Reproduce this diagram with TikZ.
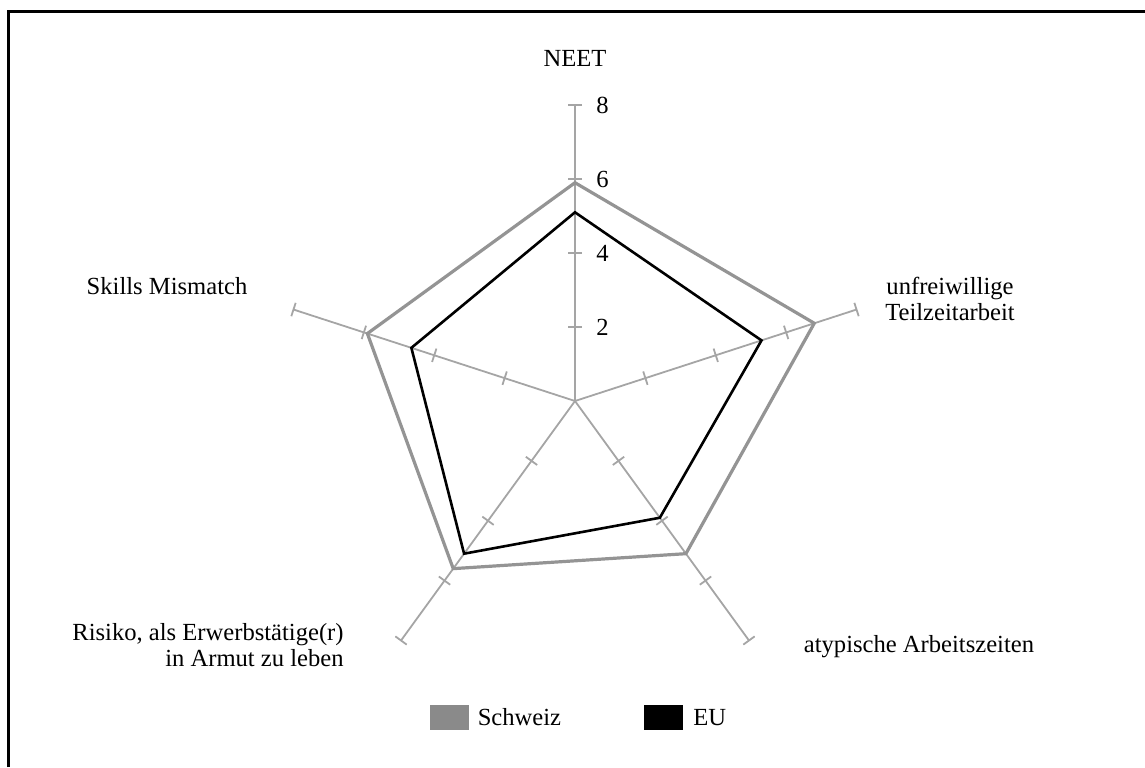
\documentclass[tikz,border=0pt]{standalone}
\usepackage{fontspec}
\setmainfont{Liberation Serif}
\usetikzlibrary{positioning}
\definecolor{axisgray}{RGB}{165,165,165}
\definecolor{chgray}{RGB}{148,148,148}
\definecolor{boxgray}{RGB}{138,138,138}

\begin{document}
\begin{tikzpicture}[x=0.5pt,y=0.5pt,
  lbl/.style={font=\fontsize{12.3}{13}\selectfont,inner sep=0pt},
  axis/.style={draw=axisgray,line width=0.9pt},
  swline/.style={draw=chgray,line width=1.6pt},
  euline/.style={draw=black,line width=1.3pt},
  legbox/.style={minimum width=19.5pt,minimum height=12.5pt,inner sep=0pt}]
  \useasboundingbox (0,0) rectangle (1145,-767);
  % frame
  \draw[line width=1.5pt] (8,-767) -- (8,-11) -- (1145,-11);
  \begin{scope}[shift={(575,-401)},x=18.5pt,y=18.5pt]
    % axes with ticks
    \foreach \a in {90,18,-54,-126,162} {
      \draw[axis] (0,0) -- (\a:8);
      \foreach \r in {2,4,6,8}
        \draw[axis,rotate=\a] (\r,-0.19) -- (\r,0.19);
    }
    % scale
    \foreach \r in {2,4,6,8}
      \node[lbl,anchor=west] (tick\r) at (0.57,\r) {\r};
    % Schweiz
    \draw[swline] (90:5.9) -- (18:6.8) -- (-54:5.1) -- (-126:5.6) -- (162:5.9) -- cycle;
    % EU
    \draw[euline] (90:5.1) -- (18:5.3) -- (-54:3.9) -- (-126:5.1) -- (162:4.65) -- cycle;
  \end{scope}
  % axis labels
  \node[lbl] (neet) at (575,-58) {NEET};
  \node[lbl,align=center] (teilzeit) at (950,-299) {unfreiwillige\\Teilzeitarbeit};
  \node[lbl] (atyp) at (919,-647) {atypische Arbeitszeiten};
  \node[lbl,anchor=east,align=right] (risiko) at (344,-645) {Risiko, als Erwerbstätige(r)\\in Armut zu leben};
  \node[lbl] (skills) at (167,-286) {Skills Mismatch};
  % legend
  \node[legbox,fill=boxgray] (boxsw) at (449.5,-717.5) {};
  \node[lbl,right=4pt of boxsw] (labsw) {Schweiz};
  \node[legbox,fill=black] (boxeu) at (663,-717.5) {};
  \node[lbl,right=5pt of boxeu] (labeu) {EU};
\end{tikzpicture}
\end{document}
